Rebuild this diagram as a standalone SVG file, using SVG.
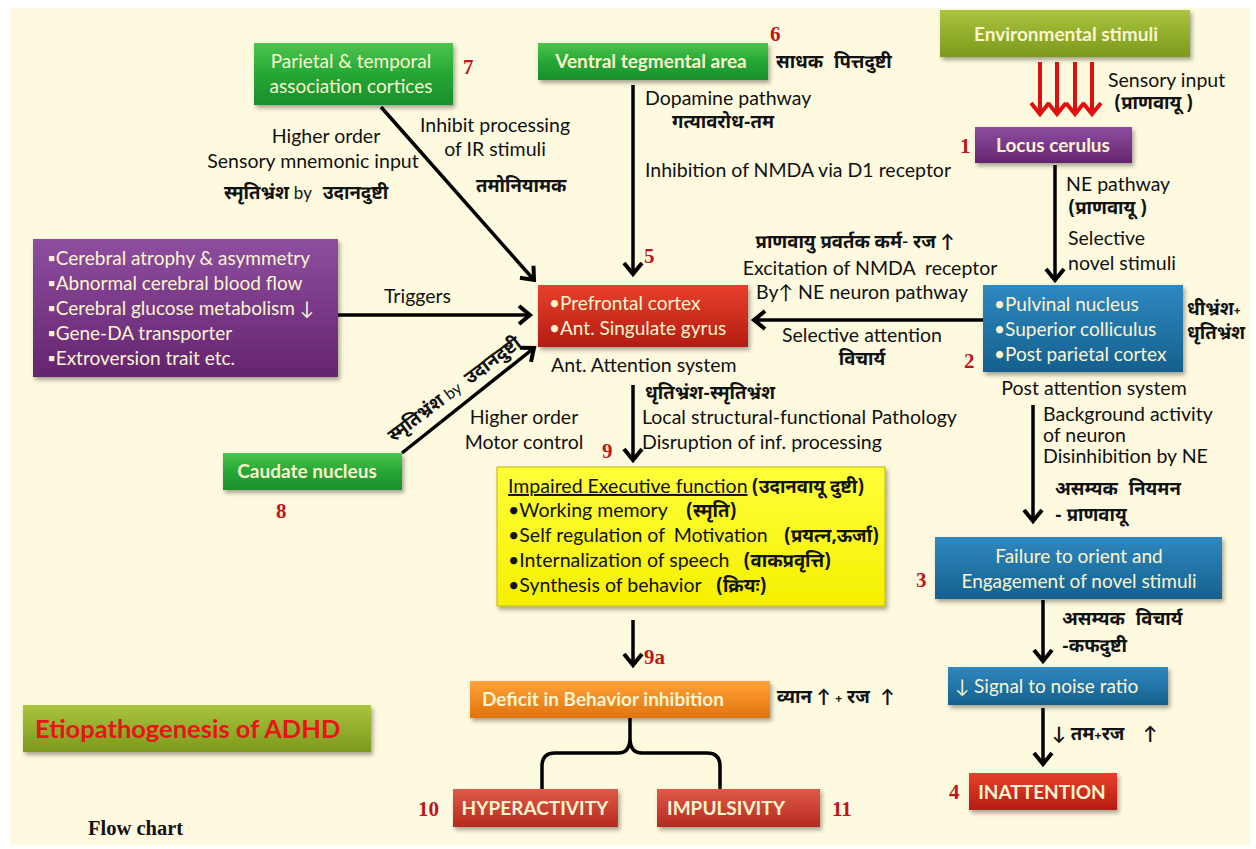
<svg xmlns="http://www.w3.org/2000/svg" width="1256" height="849" viewBox="0 0 1256 849">
<defs>
<style>
.t{font-family:Lato,"Noto Sans","Noto Sans Devanagari",sans-serif;font-size:19.5px;fill:#111}
.d{font-family:"Noto Sans Devanagari","Lohit Devanagari","Noto Sans",Lato,sans-serif;font-size:18.5px;font-weight:bold;fill:#111}
.bx{font-family:Lato,"Noto Sans",sans-serif;fill:#fbf5cf;font-size:19px}
.b{font-weight:bold}
.n{font-family:"Liberation Serif","Times New Roman",serif;font-weight:bold;font-size:21px;fill:#c0141a}
.ln{fill:none;stroke:#000;stroke-width:3.5}
.rl{fill:none;stroke:#e01010;stroke-width:4}
</style>
<linearGradient id="gGreen" x1="0" y1="0" x2="0" y2="1"><stop offset="0" stop-color="#4ec44e"/><stop offset="0.5" stop-color="#25a735"/><stop offset="1" stop-color="#1a8f2a"/></linearGradient>
<linearGradient id="gPurple" x1="0" y1="0" x2="0" y2="1"><stop offset="0" stop-color="#8e4ea0"/><stop offset="1" stop-color="#64246f"/></linearGradient>
<linearGradient id="gBlue" x1="0" y1="0" x2="0" y2="1"><stop offset="0" stop-color="#2f88bf"/><stop offset="1" stop-color="#16608f"/></linearGradient>
<linearGradient id="gRed" x1="0" y1="0" x2="0" y2="1"><stop offset="0" stop-color="#e8402c"/><stop offset="1" stop-color="#b41c12"/></linearGradient>
<linearGradient id="gRed2" x1="0" y1="0" x2="0" y2="1"><stop offset="0" stop-color="#de5a48"/><stop offset="1" stop-color="#b52a1f"/></linearGradient>
<linearGradient id="gOrange" x1="0" y1="0" x2="0" y2="1"><stop offset="0" stop-color="#ffa23a"/><stop offset="1" stop-color="#e2730e"/></linearGradient>
<linearGradient id="gOlive" x1="0" y1="0" x2="0" y2="1"><stop offset="0" stop-color="#aac43e"/><stop offset="1" stop-color="#7c991c"/></linearGradient>
<linearGradient id="gYellow" x1="0" y1="0" x2="0" y2="1"><stop offset="0" stop-color="#ffff3a"/><stop offset="1" stop-color="#f5f000"/></linearGradient>
<filter id="sh" x="-10%" y="-20%" width="125%" height="150%"><feDropShadow dx="2" dy="3" stdDeviation="2" flood-color="#000" flood-opacity="0.35"/></filter>
<marker id="ah" viewBox="-14 -11 18 22" refX="0" refY="0" markerWidth="18" markerHeight="22" markerUnits="userSpaceOnUse" orient="auto"><path d="M-11,-9 L0,0 L-11,9" fill="none" stroke="#000" stroke-width="4"/></marker>
<marker id="ahr" viewBox="-14 -11 18 22" refX="0" refY="0" markerWidth="18" markerHeight="22" markerUnits="userSpaceOnUse" orient="auto"><path d="M-11,-9 L0,0 L-11,9" fill="none" stroke="#e01010" stroke-width="4"/></marker>
</defs>
<rect width="1256" height="849" fill="#ffffff"/>
<rect x="10" y="8" width="1240" height="837" fill="#fefadf"/>

<g id="connectors">
<line class="rl" x1="1040" y1="62" x2="1040" y2="114" marker-end="url(#ahr)"/>
<line class="rl" x1="1057" y1="62" x2="1057" y2="114" marker-end="url(#ahr)"/>
<line class="rl" x1="1075" y1="62" x2="1075" y2="114" marker-end="url(#ahr)"/>
<line class="rl" x1="1092" y1="62" x2="1092" y2="114" marker-end="url(#ahr)"/>
<line class="ln" x1="1055" y1="165" x2="1055" y2="280" marker-end="url(#ah)"/>
<line class="ln" x1="633" y1="85" x2="633" y2="274" marker-end="url(#ah)"/>
<line class="ln" x1="381" y1="107" x2="534" y2="280" marker-end="url(#ah)"/>
<line class="ln" x1="338" y1="315" x2="530" y2="315" marker-end="url(#ah)"/>
<line class="ln" x1="402" y1="453" x2="534" y2="348" marker-end="url(#ah)"/>
<line class="ln" x1="983" y1="320" x2="754" y2="320" marker-end="url(#ah)"/>
<line class="ln" x1="633" y1="385" x2="633" y2="460" marker-end="url(#ah)"/>
<line class="ln" x1="1033" y1="405" x2="1033" y2="521" marker-end="url(#ah)"/>
<line class="ln" x1="1043" y1="600" x2="1043" y2="661" marker-end="url(#ah)"/>
<line class="ln" x1="1043" y1="708" x2="1043" y2="764" marker-end="url(#ah)"/>
<line class="ln" x1="633" y1="620" x2="633" y2="665" marker-end="url(#ah)"/>
<path class="ln" stroke-width="5" d="M542,790 L542,766 Q542,753 555,753 L618,753 Q630,753 630,738 L630,718 M630,738 Q630,753 642,753 L707,753 Q720,753 720,766 L720,790"/>
</g>

<g id="environmental-stimuli">
<rect x="940" y="10" width="250" height="47" fill="url(#gOlive)" filter="url(#sh)"/>
<text class="bx b" x="1066" y="41" font-size="19.5" text-anchor="middle">Environmental stimuli</text>
</g>
<text class="t" x="1108" y="87">Sensory input</text>
<text class="d" x="1114" y="109">(प्राणवायू )</text>

<g id="locus-cerulus">
<rect x="975" y="127" width="157" height="36" fill="url(#gPurple)" filter="url(#sh)"/>
<text class="bx b" x="1053" y="152" text-anchor="middle">Locus cerulus</text>
<text class="n" x="960" y="153">1</text>
</g>
<text class="t" x="1066" y="191">NE pathway</text>
<text class="d" x="1068" y="214">(प्राणवायू )</text>
<text class="t" x="1068" y="245">Selective</text>
<text class="t" x="1068" y="270">novel stimuli</text>

<g id="pulvinal">
<rect x="983" y="285" width="200" height="87" fill="url(#gBlue)" filter="url(#sh)"/>
<text class="bx"><tspan x="994" y="311">•Pulvinal nucleus</tspan><tspan x="994" y="336">•Superior colliculus</tspan><tspan x="994" y="361">•Post parietal cortex</tspan></text>
<text class="n" x="964" y="368">2</text>
</g>
<text class="d" x="1187" y="315" font-size="17.5">धीभ्रंश<tspan font-size="12">+</tspan></text>
<text class="d" x="1187" y="339" font-size="17.5">धृतिभ्रंश</text>
<text class="t" x="1094" y="395" text-anchor="middle">Post attention system</text>
<text class="t"><tspan x="1043" y="421">Background activity</tspan><tspan x="1043" y="442">of neuron</tspan><tspan x="1043" y="463">Disinhibition by NE</tspan></text>
<text class="d" x="1055" y="495">असम्यक <tspan dx="6">नियमन</tspan></text>
<text class="d" x="1055" y="521">- प्राणवायू</text>

<g id="failure-orient">
<rect x="935" y="537" width="287" height="62" fill="url(#gBlue)" filter="url(#sh)"/>
<text class="bx" text-anchor="middle"><tspan x="1079" y="563">Failure to orient and</tspan><tspan x="1079" y="588">Engagement of novel stimuli</tspan></text>
<text class="n" x="916" y="587">3</text>
</g>
<text class="d" x="1062" y="625">असम्यक <tspan dx="6">विचार्य</tspan></text>
<text class="d" x="1062" y="652">-कफदुष्टी</text>

<g id="signal-noise">
<rect x="948" y="667" width="220" height="38" fill="url(#gBlue)" filter="url(#sh)"/>
<text class="bx" x="955" y="693" font-size="19.5">↓ Signal to noise ratio</text>
</g>
<text class="d" x="1052" y="740">↓ तम<tspan font-size="13">+</tspan>रज <tspan dx="14">↑</tspan></text>

<g id="inattention">
<rect x="969" y="773" width="148" height="37" fill="url(#gRed)" filter="url(#sh)"/>
<text class="bx b" x="1042" y="799" font-size="18" text-anchor="middle">INATTENTION</text>
<text class="n" x="949" y="799" font-family="Lato,sans-serif" fill="#d42020">4</text>
</g>

<g id="parietal-temporal">
<rect x="254" y="43" width="199" height="62" fill="url(#gGreen)" filter="url(#sh)"/>
<text class="bx" font-size="19.5" text-anchor="middle"><tspan x="351" y="68">Parietal &amp; temporal</tspan><tspan x="351" y="93">association cortices</tspan></text>
<text class="n" x="463" y="74">7</text>
</g>
<text class="t" x="326" y="143" text-anchor="middle">Higher order</text>
<text class="t" x="313" y="168" text-anchor="middle">Sensory mnemonic input</text>
<text class="d" x="224" y="199">स्मृतिभ्रंश <tspan font-family="Lato,sans-serif" font-weight="normal" font-size="17">by</tspan> <tspan dx="6">उदानदुष्टी</tspan></text>
<text class="t" x="420" y="132">Inhibit processing</text>
<text class="t" x="495" y="156" text-anchor="middle">of IR stimuli</text>
<text class="d" x="476" y="192">तमोनियामक</text>

<g id="ventral-tegmental">
<rect x="538" y="43" width="230" height="37" fill="url(#gGreen)" filter="url(#sh)"/>
<text class="bx b" x="651" y="68" font-size="19.5" text-anchor="middle">Ventral tegmental area</text>
<text class="n" x="770" y="41">6</text>
</g>
<text class="d" x="776" y="68">साधक <tspan dx="6">पित्तदुष्टी</tspan></text>
<text class="t" x="645" y="105">Dopamine pathway</text>
<text class="d" x="672" y="128">गत्यावरोध-तम</text>
<text class="t" x="645" y="177">Inhibition of NMDA via D1 receptor</text>
<text class="n" x="644" y="263">5</text>

<g id="brain-factors">
<rect x="33" y="239" width="305" height="138" fill="url(#gPurple)" filter="url(#sh)"/>
<text class="bx"><tspan x="48" y="265">▪Cerebral atrophy &amp; asymmetry</tspan><tspan x="48" y="290">▪Abnormal cerebral blood flow</tspan><tspan x="48" y="315">▪Cerebral glucose metabolism ↓</tspan><tspan x="48" y="340">▪Gene-DA transporter</tspan><tspan x="48" y="365">▪Extroversion trait etc.</tspan></text>
</g>
<text class="t" x="384" y="303">Triggers</text>

<g id="prefrontal">
<rect x="538" y="285" width="210" height="62" fill="url(#gRed)" filter="url(#sh)"/>
<text class="bx" font-size="19.5"><tspan x="549" y="310">•Prefrontal cortex</tspan><tspan x="549" y="335">•Ant. Singulate gyrus</tspan></text>
</g>
<text class="t" x="551" y="372">Ant. Attention system</text>
<text class="d" x="855" y="248" text-anchor="middle">प्राणवायु प्रवर्तक कर्म<tspan font-weight="normal">- </tspan>रज ↑</text>
<text class="t" x="870" y="275" text-anchor="middle">Excitation of NMDA <tspan dx="5">receptor</tspan></text>
<text class="t" x="862" y="299" text-anchor="middle">By↑ NE neuron pathway</text>
<text class="t" x="862" y="342" text-anchor="middle">Selective attention</text>
<text class="d" x="862" y="365" text-anchor="middle">विचार्य</text>

<g id="caudate">
<rect x="223" y="453" width="179" height="37" fill="url(#gGreen)" filter="url(#sh)"/>
<text class="bx b" x="307" y="478" font-size="19.5" text-anchor="middle">Caudate nucleus</text>
<text class="n" x="276" y="518">8</text>
</g>
<text class="d" transform="translate(458,394) rotate(-37)" text-anchor="middle">स्मृतिभ्रंश <tspan font-family="Lato,sans-serif" font-weight="normal" font-size="16">by</tspan> <tspan dx="4">उदानदुष्टी</tspan></text>
<text class="t" text-anchor="middle"><tspan x="524" y="424">Higher order</tspan><tspan x="524" y="449">Motor control</tspan></text>
<text class="d" x="645" y="399">धृतिभ्रंश-स्मृतिभ्रंश</text>
<text class="t"><tspan x="642" y="424">Local structural-functional Pathology</tspan><tspan x="642" y="449">Disruption of inf. processing</tspan></text>
<text class="n" x="602" y="458">9</text>

<g id="executive">
<rect x="497" y="467" width="388" height="139" fill="url(#gYellow)" stroke="#c8b400" stroke-width="1" filter="url(#sh)"/>
<text class="t"><tspan x="508" y="493" text-decoration="underline">Impaired Executive function</tspan><tspan class="d" dx="4">(उदानवायू दुष्टी)</tspan></text>
<text class="t"><tspan x="508" y="517">•Working memory</tspan><tspan class="d" dx="18">(स्मृति)</tspan></text>
<text class="t"><tspan x="508" y="542">•Self regulation of <tspan dx="4">Motivation</tspan></tspan><tspan class="d" dx="16">(प्रयत्न,ऊर्जा)</tspan></text>
<text class="t"><tspan x="508" y="567">•Internalization of speech</tspan><tspan class="d" dx="14">(वाकप्रवृत्ति)</tspan></text>
<text class="t"><tspan x="508" y="592">•Synthesis of behavior</tspan><tspan class="d" dx="14">(क्रियः)</tspan></text>
</g>
<text class="n" x="644" y="664">9a</text>

<g id="deficit">
<rect x="470" y="681" width="300" height="37" fill="url(#gOrange)" filter="url(#sh)"/>
<text class="bx b" x="482" y="706" font-size="19.5">Deficit in Behavior inhibition</text>
</g>
<text class="d" x="777" y="703">व्यान ↑ <tspan font-size="12">+</tspan> रज <tspan dx="6">↑</tspan></text>

<g id="hyperactivity">
<rect x="453" y="789" width="165" height="38" fill="url(#gRed2)" filter="url(#sh)"/>
<text class="bx b" x="535" y="815" font-size="18" text-anchor="middle">HYPERACTIVITY</text>
<text class="n" x="418" y="816">10</text>
</g>
<g id="impulsivity">
<rect x="657" y="789" width="163" height="38" fill="url(#gRed2)" filter="url(#sh)"/>
<text class="bx b" x="726" y="815" font-size="18" text-anchor="middle">IMPULSIVITY</text>
<text class="n" x="832" y="816">11</text>
</g>

<g id="title">
<rect x="23" y="705" width="348" height="47" fill="url(#gOlive)" filter="url(#sh)"/>
<text x="35" y="738" font-family="Lato,sans-serif" font-weight="bold" font-size="25.5" fill="#e8141a">Etiopathogenesis of ADHD</text>
</g>
<text x="88" y="835" font-family="Liberation Serif,serif" font-weight="bold" font-size="20.5" fill="#111">Flow chart</text>
</svg>
